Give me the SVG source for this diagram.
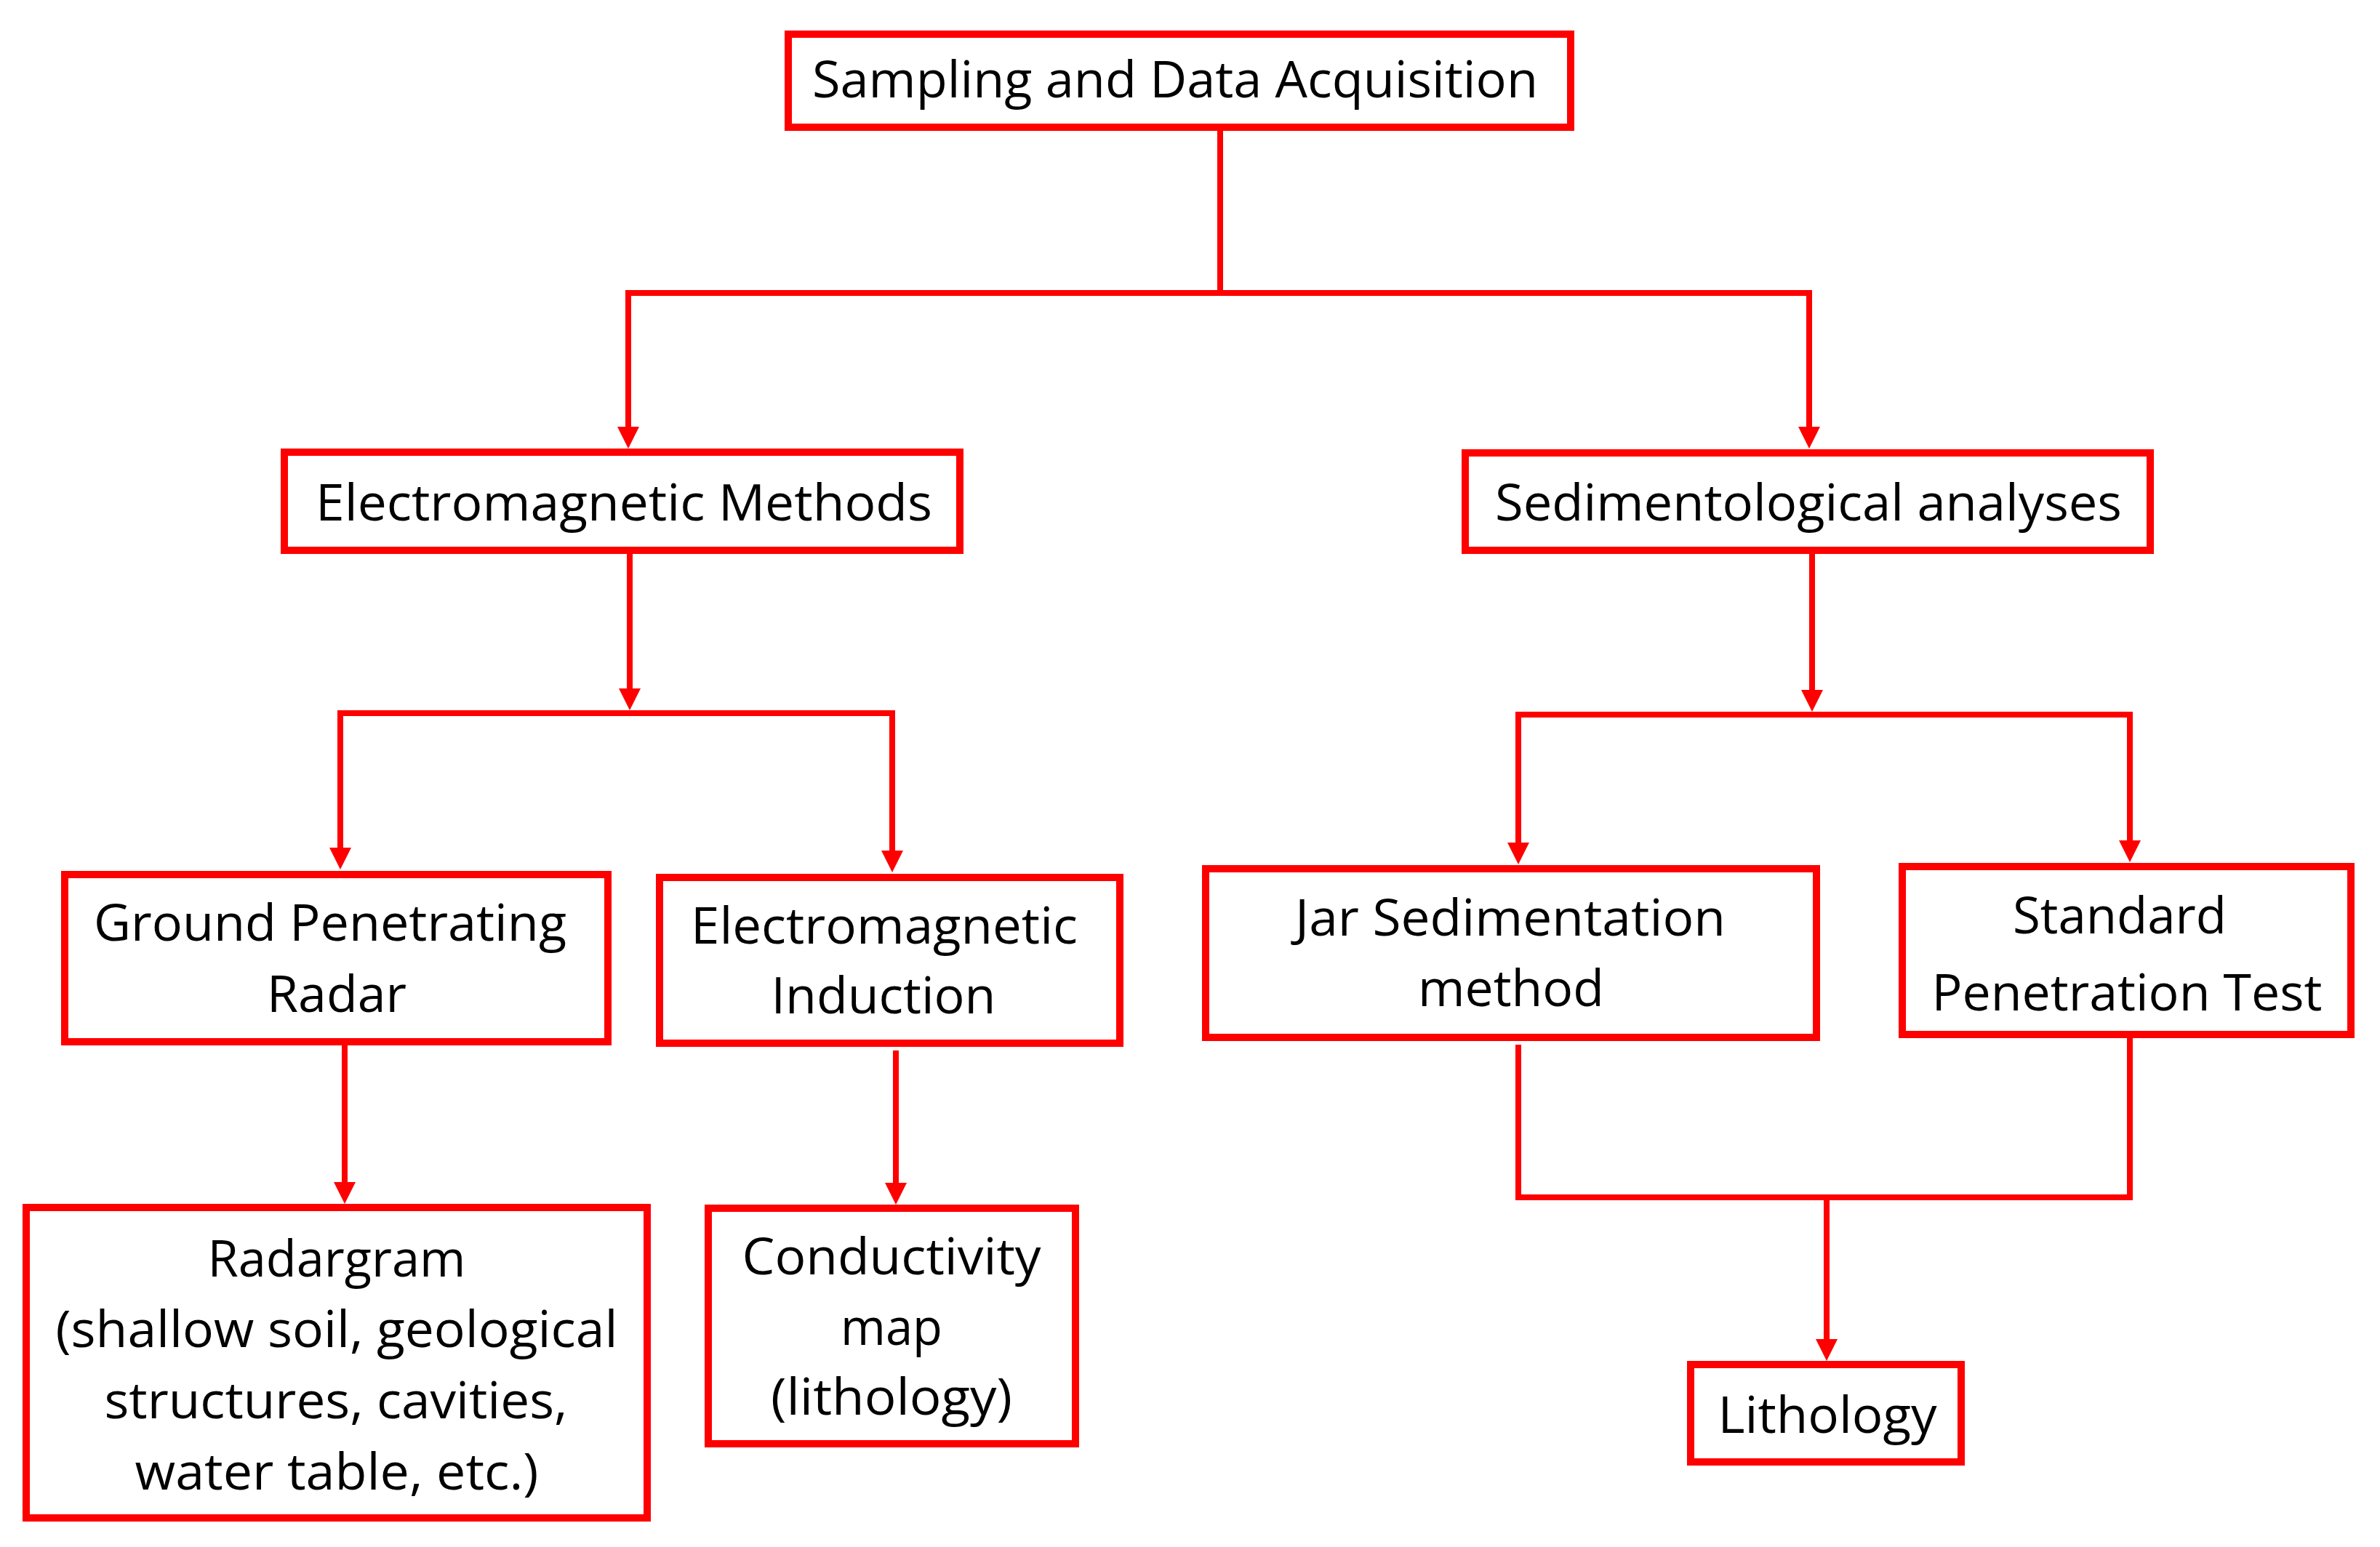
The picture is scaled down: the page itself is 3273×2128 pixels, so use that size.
<svg xmlns="http://www.w3.org/2000/svg" width="3273" height="2128" viewBox="0 0 3273 2128">
<style>
.box{fill:#ffffff;stroke:#ff0000;stroke-width:10}
.lbl{font-family:"Open Sans","Liberation Sans",sans-serif;font-size:70px;fill:#000000;text-anchor:middle}
.con{fill:none;stroke:#ff0000;stroke-width:8}
.arr{marker-end:url(#ah)}
</style>
<defs>
<marker id="ah" markerUnits="userSpaceOnUse" markerWidth="30" markerHeight="30" viewBox="0 0 30 30" refX="20" refY="15" orient="auto">
<path d="M0,0 L30,15 L0,30 z" fill="#ff0000"/>
</marker>
</defs>
<rect width="3273" height="2128" fill="#ffffff"/>
<g id="connectors">
<path class="con" d="M1678,180 V403 M864,403 H2488"/>
<path class="con arr" d="M864,399 V607"/>
<path class="con arr" d="M2488,399 V607"/>
<path class="con arr" d="M866,762 V967"/>
<path class="con" d="M468,981 H1227"/>
<path class="con arr" d="M468,977 V1186"/>
<path class="con arr" d="M1227,977 V1190"/>
<path class="con arr" d="M2492,762 V969"/>
<path class="con" d="M2088,983 H2929"/>
<path class="con arr" d="M2088,979 V1179"/>
<path class="con arr" d="M2929,979 V1176"/>
<path class="con arr" d="M474,1438 V1646"/>
<path class="con arr" d="M1232,1445 V1647"/>
<path class="con" d="M2088,1437 V1647 H2929 V1428"/>
<path class="con arr" d="M2512,1647 V1862"/>
</g>
<g id="n-sampling">
<rect class="box" x="1084" y="47" width="1076" height="128"/>
<text class="lbl" x="1616" y="134" textLength="998" lengthAdjust="spacingAndGlyphs">Sampling and Data Acquisition</text>
</g>
<g id="n-em-methods">
<rect class="box" x="391" y="622" width="929" height="135"/>
<text class="lbl" x="858" y="716" textLength="848" lengthAdjust="spacingAndGlyphs">Electromagnetic Methods</text>
</g>
<g id="n-sed">
<rect class="box" x="2015" y="623" width="942" height="134"/>
<text class="lbl" x="2487" y="716" textLength="862" lengthAdjust="spacingAndGlyphs">Sedimentological analyses</text>
</g>
<g id="n-gpr">
<rect class="box" x="89" y="1203" width="747" height="230"/>
<text class="lbl" x="454" y="1294" textLength="650" lengthAdjust="spacingAndGlyphs">Ground Penetrating</text>
<text class="lbl" x="463" y="1392" textLength="192" lengthAdjust="spacingAndGlyphs">Radar</text>
</g>
<g id="n-emi">
<rect class="box" x="907" y="1207" width="633" height="228"/>
<text class="lbl" x="1216" y="1298" textLength="532" lengthAdjust="spacingAndGlyphs">Electromagnetic</text>
<text class="lbl" x="1215" y="1394" textLength="309" lengthAdjust="spacingAndGlyphs">Induction</text>
</g>
<g id="n-jar">
<rect class="box" x="1658" y="1195" width="840" height="232"/>
<text class="lbl" x="2077" y="1287" textLength="592" lengthAdjust="spacingAndGlyphs">Jar Sedimentation</text>
<text class="lbl" x="2078" y="1384" textLength="256" lengthAdjust="spacingAndGlyphs">method</text>
</g>
<g id="n-spt">
<rect class="box" x="2616" y="1192" width="617" height="231"/>
<text class="lbl" x="2915" y="1284" textLength="294" lengthAdjust="spacingAndGlyphs">Standard</text>
<text class="lbl" x="2925" y="1390" textLength="537" lengthAdjust="spacingAndGlyphs">Penetration Test</text>
</g>
<g id="n-radargram">
<rect class="box" x="36" y="1661" width="854" height="427"/>
<text class="lbl" x="463" y="1756" textLength="355" lengthAdjust="spacingAndGlyphs">Radargram</text>
<text class="lbl" x="463" y="1853" textLength="773" lengthAdjust="spacingAndGlyphs">(shallow soil, geological</text>
<text class="lbl" x="462" y="1951" textLength="637" lengthAdjust="spacingAndGlyphs">structures, cavities,</text>
<text class="lbl" x="463" y="2049" textLength="555" lengthAdjust="spacingAndGlyphs">water table, etc.)</text>
</g>
<g id="n-conductivity">
<rect class="box" x="974" y="1662" width="505" height="324"/>
<text class="lbl" x="1226" y="1753" textLength="411" lengthAdjust="spacingAndGlyphs">Conductivity</text>
<text class="lbl" x="1226" y="1850" textLength="140" lengthAdjust="spacingAndGlyphs">map</text>
<text class="lbl" x="1226" y="1946" textLength="332" lengthAdjust="spacingAndGlyphs">(lithology)</text>
</g>
<g id="n-lithology">
<rect class="box" x="2325" y="1877" width="372" height="134"/>
<text class="lbl" x="2513" y="1971" textLength="301" lengthAdjust="spacingAndGlyphs">Lithology</text>
</g>
</svg>
